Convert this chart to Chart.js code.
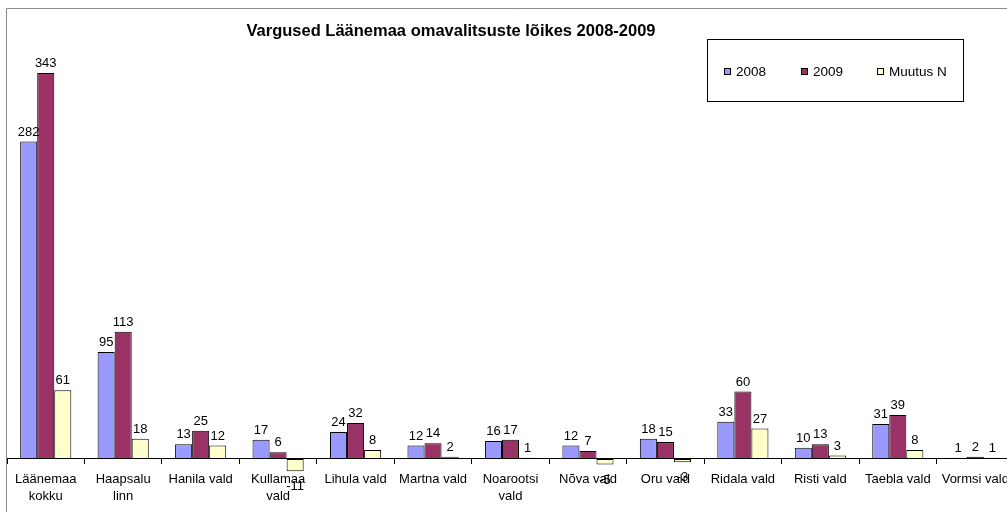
<!DOCTYPE html>
<html>
<head>
<meta charset="utf-8">
<script src="https://cdn.jsdelivr.net/npm/chart.js@4.4.1/dist/chart.umd.min.js"></script>
<style>
  html, body { margin: 0; padding: 0; background: #fff; overflow: hidden; }
  #wrap { position: absolute; left: 0; top: 0; width: 1022px; height: 512px; }
</style>
</head>
<body>
<div id="wrap"><canvas id="chart"></canvas></div>
<script>
let categories = [
  ["Läänemaa", "kokku"],
  ["Haapsalu", "linn"],
  "Hanila vald",
  ["Kullamaa", "vald"],
  "Lihula vald",
  "Martna vald",
  ["Noarootsi", "vald"],
  "Nõva vald",
  "Oru vald",
  "Ridala vald",
  "Risti vald",
  "Taebla vald",
  "Vormsi vald",
];

let values2008 = [282, 95, 13, 17, 24, 12, 16, 12, 18, 33, 10, 31, 1];
let values2009 = [343, 113, 25, 6, 32, 14, 17, 7, 15, 60, 13, 39, 2];
let valuesMuutus = [61, 18, 12, -11, 8, 2, 1, -5, -3, 27, 3, 8, 1];

let chartTitle = "Vargused Läänemaa omavalitsuste lõikes 2008-2009";
let font = "'Liberation Sans', Arial, sans-serif";

// value labels above / below every bar
const barLabels = {
  id: "barLabels",
  afterDatasetsDraw(chart) {
    const ctx = chart.ctx;
    ctx.save();
    ctx.font = "13px " + font;
    ctx.fillStyle = "#000";
    ctx.textAlign = "center";
    chart.data.datasets.forEach((ds, i) => {
      chart.getDatasetMeta(i).data.forEach((bar, j) => {
        const v = ds.data[j];
        if (v >= 0) {
          ctx.textBaseline = "bottom";
          ctx.fillText(v, bar.x, bar.y - 3);
        } else {
          ctx.textBaseline = "top";
          ctx.fillText(v, bar.x, bar.y + 9);
        }
      });
    });
    ctx.restore();
  },
};

// frame, title and boxed legend like the spreadsheet original
const frame = {
  id: "frame",
  afterDraw(chart) {
    const ctx = chart.ctx;
    ctx.save();
    ctx.strokeStyle = "#8c8c8c";
    ctx.lineWidth = 1;
    ctx.beginPath();
    ctx.moveTo(6.5, 520);
    ctx.lineTo(6.5, 8.5);
    ctx.lineTo(1030, 8.5);
    ctx.stroke();

    ctx.fillStyle = "#000";
    ctx.font = "bold 16.5px " + font;
    ctx.textAlign = "center";
    ctx.textBaseline = "middle";
    ctx.fillText(chartTitle, 451, 31);

    ctx.strokeStyle = "#000";
    ctx.strokeRect(707.5, 39.5, 256, 62);
    const itemX = [724, 801, 877];
    ctx.font = "13.5px " + font;
    ctx.textAlign = "left";
    chart.data.datasets.forEach((ds, i) => {
      ctx.fillStyle = ds.backgroundColor;
      ctx.fillRect(itemX[i], 68, 7, 7);
      ctx.strokeRect(itemX[i] + 0.5, 68.5, 6, 6);
      ctx.fillStyle = "#000";
      ctx.fillText(ds.label, itemX[i] + 12, 72);
    });
    ctx.restore();
  },
};

let chart = new Chart(document.getElementById("chart").getContext("2d"), {
  type: "bar",
  data: {
    labels: categories,
    datasets: [
      { label: "2008", data: values2008, backgroundColor: "#9999ff" },
      { label: "2009", data: values2009, backgroundColor: "#993366" },
      { label: "Muutus N", data: valuesMuutus, backgroundColor: "#ffffcc" },
    ],
  },
  options: {
    responsive: true,
    maintainAspectRatio: false,
    animation: false,
    layout: { padding: { left: 7, right: 8, top: 65, bottom: 8 } },
    datasets: {
      bar: {
        borderColor: "#000",
        borderWidth: 1,
        borderSkipped: false,
        categoryPercentage: 0.66,
        barPercentage: 1,
      },
    },
    scales: {
      x: {
        position: { y: 0 },
        afterFit: (scale) => { scale.height = 0; },
        border: { display: true, color: "#000", width: 1 },
        grid: {
          drawOnChartArea: false,
          drawTicks: true,
          tickLength: 5,
          tickColor: "#000",
          offset: true,
        },
        ticks: {
          color: "#000",
          font: { family: font, size: 13, lineHeight: 1.3 },
          maxRotation: 0,
          autoSkip: false,
          padding: 7,
        },
      },
      y: {
        display: false,
        min: -40,
        max: 350,
      },
    },
    plugins: {
      legend: { display: false },
      title: { display: false },
      tooltip: { enabled: false },
    },
  },
  plugins: [barLabels, frame],
});
</script>
</body>
</html>
